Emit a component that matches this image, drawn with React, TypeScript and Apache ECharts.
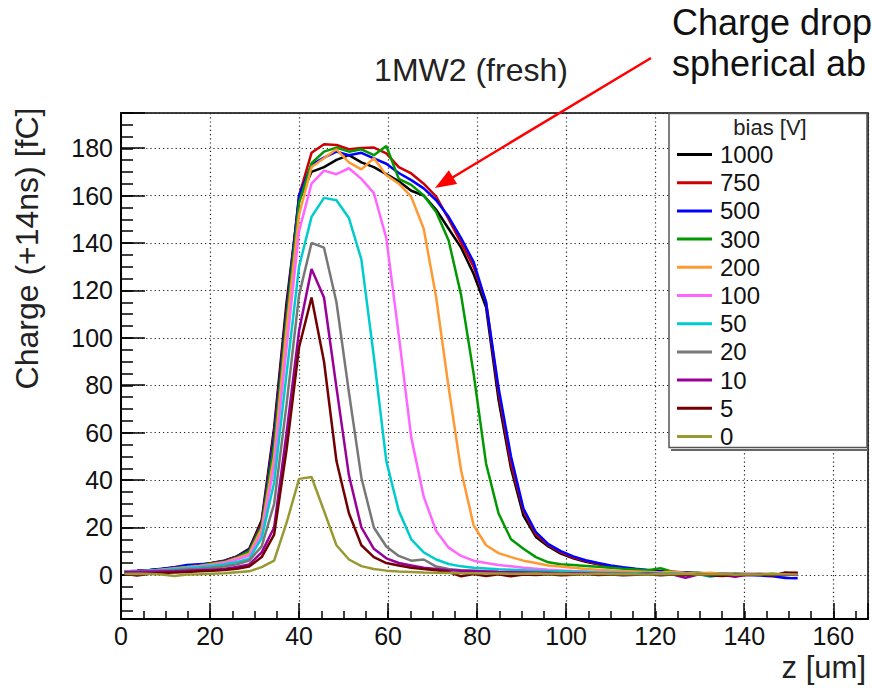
import React, { useEffect, useRef } from "react";
import * as echarts from "echarts";

// z positions of the scan [um]
const zPositions = [
  0.8, 3.6, 6.4, 9.2, 12.0, 14.8, 17.6, 20.4, 23.2, 26.0, 28.8, 31.6, 34.4, 37.2,
  40.0, 42.8, 45.6, 48.4, 51.2, 54.0, 56.8, 59.6, 62.4, 65.2, 68.0, 70.8, 73.6,
  76.4, 79.2, 82.0, 84.8, 87.6, 90.4, 93.2, 96.0, 98.8, 101.6, 104.4, 107.2, 110.0,
  112.8, 115.6, 118.4, 121.2, 124.0, 126.8, 129.6, 132.4, 135.2, 138.0, 140.8,
  143.6, 146.4, 149.2, 152.0,
];

const biasLabels = ["1000", "750", "500", "300", "200", "100", "50", "20", "10", "5", "0"];
const biasColors = [
  "#000000", "#cc0000", "#0000ff", "#009900", "#ff9933", "#ff66ff",
  "#00cccc", "#777777", "#990099", "#730000", "#999933",
];

const bias1000 = [1.5,1.6,2.0,2.5,3.0,3.5,4.2,5.0,6.0,7.8,11, 23,62,115,158,170,172,175,177,174,172, 169,166,162,160,154,146,138,127,113,74, 45,25,16,12,9,7,5.5,4.5,3.6,2.8, 2.2,1.8,1.4,1.2,0.9,0.6,0.4,0.5,0.2,0.3, 0.1,0.0,-0.2,0.3];
const bias750 = [1.3,1.5,2.0,2.4,3.2,3.6,4.0,5.0,6.0,7.7,10.5, 22,60,112,160,178,181.6,181.3,179.5,180,180.2, 177.8,172,169.3,165,159.5,150,140,130,115,77, 47,27,17,12.5,9.5,7.3,5.8,4.6,3.7,2.9, 2.3,1.8,1.5,1.2,1.0,0.8,0.6,0.3,0.5,0.2, 0.4,0.0,0.6,0.9];
const bias500 = [1.4,1.7,2.1,2.6,3.2,4.2,4.5,4.8,5.8,7.5,10.3, 21,58,110,160,173,176,178.5,177,178,175.7, 173.4,169.5,166.5,163,158,151,142,132,115,79, 50,28,18,13,10,7.8,6.2,5.0,4.0,3.2, 2.6,2.1,1.6,1.3,1.0,0.6,0.3,0.5,0.1,0.0, -0.3,-0.6,-1.3,-1.4];
const bias300 = [1.3,1.5,1.9,2.3,2.9,3.4,4.0,4.8,5.6,7.3,10, 20.5,55,108,157,173.6,178.5,180.2,178.5,179.5,177, 180.9,167,164.5,160,153,141,118,85,47,26, 15,11,7.5,5.3,4.5,4.2,3.8,3.4,3.0,2.6, 2.3,2.0,2.8,1.2,0.8,0.9,0.5,0.6,0.3,0.4, 0.2,0.5,0.1,0.3];
const bias200 = [1.2,1.4,1.8,2.2,2.7,3.2,3.8,4.5,5.3,7.0,9.0, 19.5,50,104,152,172,175.7,179.5,174,171,175.7, 168.6,165,159.5,146,117,79,44,21,12.5,9.2, 7.5,6,5,4,3.5,3,2.5,2.2,1.9,1.6, 1.4,1.2,1.0,1.3,0.8,0.6,0.9,0.4,0.7,0.3, 0.5,0.2,0.4,0.1];
const bias100 = [1.3,1.5,1.8,2.2,2.6,3.0,3.6,4.2,5.0,6.5,8.2, 17.5,46,96,145,165,170.5,169,171.5,167,161, 142,101,58,33,18.5,11.5,8,6,5,4.2, 3.6,3.0,2.6,2.2,1.9,1.6,1.4,1.2,1.0,0.9, 0.8,0.6,0.4,0.3,0.5,0.2,0.2,0.5,0.3,0.6, 0.4,0.2,0.5,0.3];
const bias50 = [1.2,1.4,1.7,2.0,2.4,2.8,3.2,3.8,4.4,5.4,6.8, 15.5,39,85,130,151,159,158,150.5,133,92, 48,27,15,9.5,6.5,4.6,3.6,3.0,2.7,2.4, 2.2,2.0,1.8,1.6,1.5,1.3,1.2,1.0,0.9,0.8, 0.7,0.9,0.5,0.6,0.3,0.4,-0.8,0.2,0.5,0.3, 0.4,0.1,0.3,0.2];
const bias20 = [1.2,1.4,1.6,1.8,2.0,2.3,2.6,3.0,3.5,4.5,6.0, 12,30,72,118,140,138,115,77,41,20, 12,8,6,6.5,3.5,2.5,2.0,1.8,1.5,1.3, 1.2,1.1,1.0,0.9,0.8,0.7,0.7,0.6,0.5,0.5, 0.4,0.6,0.3,0.5,0.2,0.4,0.3,0.1,0.4,0.2, 0.3,0.0,0.2,0.4];
const bias10 = [1.1,1.2,1.3,1.4,1.5,1.8,2.0,2.2,2.5,3.3,4.4, 9.5,20,60,103,129,117,79,42,20,11, 7,5,4,3,2.5,2,1.8,1.6,1.4,1.2, 1.1,1.0,0.9,0.8,0.7,0.6,0.6,0.5,0.4,0.4, 0.3,0.5,0.4,0.2,-1.2,0.1,0.3,0.0,-0.8,0.2, 0.3,0.1,0.2,0.0];
const bias5 = [0.5,-0.3,0.5,0.8,1.0,1.2,1.5,1.8,2.1,2.6,3.5, 7.5,17,53,96,117,90,48,26,12.5,7.5, 5,4,3,2.5,2,1.2,-0.6,0.4,-0.5,0.3, -0.6,0.2,0.0,0.3,-0.2,0.1,0.4,0.0,0.2,-0.1, 0.1,0.3,-0.2,0.2,0.0,0.3,-0.3,-0.5,0.1,0.0, 0.2,-0.4,1.0,0.8];
const bias0 = [0.4,0.5,0.4,0.2,-0.5,0.2,0.3,0.5,0.7,1.1,1.5, 3.3,6,22,40.5,41.3,27,12.5,6.5,3.7,2.5, 1.8,1.4,1.2,1.0,0.9,0.8,0.7,0.7,0.6,0.6, 0.5,0.5,0.6,0.4,0.5,0.3,0.4,0.5,0.3,0.4, 0.3,0.2,0.4,0.3,0.5,0.2,0.3,0.4,0.1,0.3, 0.2,0.4,0.3,0.2];

const seriesValues = [bias1000, bias750, bias500, bias300, bias200, bias100, bias50, bias20, bias10, bias5, bias0];

const FONT = '"Liberation Sans", Arial, Helvetica, sans-serif';

const major20 = (v: number) => (Math.abs(v % 20) < 1e-6 ? String(Math.round(v)) : "");

export default function App() {
  const ref = useRef<HTMLDivElement>(null);

  useEffect(() => {
    if (!ref.current) return;
    const chart = echarts.init(ref.current, null, { renderer: "svg" });

    // arrow geometry
    const ax1 = 651, ay1 = 58, ax2 = 435, ay2 = 188;
    const dx = ax2 - ax1, dy = ay2 - ay1;
    const len = Math.sqrt(dx * dx + dy * dy);
    const ux = dx / len, uy = dy / len;
    const headL = 21, headW = 8;
    const bx = ax2 - ux * headL, by = ay2 - uy * headL;

    const dotted = { color: "#222", width: 1.2, type: [1.2, 3] as any };

    const option: any = {
      animation: false,
      backgroundColor: "#fff",
      textStyle: { fontFamily: FONT },
      grid: [
        { left: 121, top: 113, width: 747, height: 506, show: true, borderColor: "#000", borderWidth: 1.5, backgroundColor: "transparent" },
        { left: 121, top: 113, width: 734.6, height: 506 },
        { left: 121, top: 112.7, width: 747, height: 497.9 },
      ],
      xAxis: [
        {
          type: "value", gridIndex: 0, min: 0, max: 167.8, splitNumber: 8,
          axisLine: { show: true, onZero: false, lineStyle: { color: "#000", width: 2 } },
          axisTick: { show: true, inside: true, length: 16, lineStyle: { color: "#000", width: 1.5 } },
          axisLabel: { formatter: major20, fontSize: 25, color: "#111", margin: 4, fontFamily: FONT },
          splitLine: { show: true, lineStyle: dotted },
        },
        {
          type: "value", gridIndex: 1, min: 0, max: 165, interval: 5,
          axisLine: { show: false, onZero: false },
          axisTick: { show: true, inside: true, length: 8, lineStyle: { color: "#000", width: 1.5 } },
          axisLabel: { show: false }, splitLine: { show: false },
        },
        { type: "value", gridIndex: 2, min: 0, max: 1, show: false },
      ],
      yAxis: [
        {
          type: "value", gridIndex: 0, min: -18.6, max: 194.8, splitNumber: 10,
          axisLine: { show: true, onZero: false, lineStyle: { color: "#000", width: 2 } },
          axisTick: { show: true, inside: true, length: 24, lineStyle: { color: "#000", width: 1.5 } },
          axisLabel: { formatter: major20, fontSize: 25, color: "#111", margin: 8, fontFamily: FONT },
          splitLine: { show: true, lineStyle: dotted },
        },
        { type: "value", gridIndex: 1, min: 0, max: 1, show: false },
        {
          type: "value", gridIndex: 2, min: -15, max: 195, interval: 5,
          axisLine: { show: false, onZero: false },
          axisTick: { show: true, inside: true, length: 12, lineStyle: { color: "#000", width: 1.5 } },
          axisLabel: { show: false }, splitLine: { show: false },
        },
      ],
      legend: {
        show: true, orient: "vertical", left: 677, top: 142.5,
        itemWidth: 35, itemHeight: 3, itemGap: 4.2, icon: "rect", padding: 0,
        selectedMode: false, z: 20,
        textStyle: { fontSize: 24, lineHeight: 24, color: "#111", fontFamily: FONT, padding: [0, 0, 0, 3] },
        data: biasLabels,
      },
      series: seriesValues.map((vals, k) => ({
        type: "line",
        name: biasLabels[k],
        xAxisIndex: 0,
        yAxisIndex: 0,
        data: zPositions.map((z, i) => [z, vals[i]]),
        symbol: "none",
        showSymbol: false,
        lineStyle: { color: biasColors[k], width: 2.5 },
        itemStyle: { color: biasColors[k] },
        emphasis: { disabled: true },
      })),
      graphic: [
        { type: "rect", z: 10, shape: { x: 669, y: 113.5, width: 198, height: 334 }, style: { fill: "#fff", stroke: "#555", lineWidth: 1.5 } },
        { type: "line", z: 10, shape: { x1: 671, y1: 450, x2: 868, y2: 450 }, style: { stroke: "#666", lineWidth: 2 } },
        { type: "text", z: 11, x: 770, y: 127, style: { text: "bias [V]", fontSize: 22, fontFamily: FONT, fill: "#222", textAlign: "center", textVerticalAlign: "middle" } },
        { type: "text", z: 11, x: 471, y: 70, style: { text: "1MW2 (fresh)", fontSize: 32, fontFamily: FONT, fill: "#222", textAlign: "center", textVerticalAlign: "middle" } },
        { type: "text", z: 11, x: 27, y: 248.5, rotation: Math.PI / 2, style: { text: "Charge (+14ns) [fC]", fontSize: 32, fontFamily: FONT, fill: "#222", textAlign: "center", textVerticalAlign: "middle" } },
        { type: "text", z: 11, x: 866, y: 667, style: { text: "z [um]", fontSize: 31, fontFamily: FONT, fill: "#222", textAlign: "right", textVerticalAlign: "middle" } },
        { type: "text", z: 11, x: 672, y: 22, style: { text: "Charge drop", fontSize: 36, fontFamily: FONT, fill: "#111", textAlign: "left", textVerticalAlign: "middle" } },
        { type: "text", z: 11, x: 672, y: 63, style: { text: "spherical ab", fontSize: 36, fontFamily: FONT, fill: "#111", textAlign: "left", textVerticalAlign: "middle" } },
        { type: "line", z: 12, shape: { x1: ax1, y1: ay1, x2: bx + ux * 2, y2: by + uy * 2 }, style: { stroke: "#f00", lineWidth: 2.5 } },
        {
          type: "polygon", z: 12,
          shape: { points: [[ax2, ay2], [bx - uy * headW, by + ux * headW], [bx + uy * headW, by - ux * headW]] },
          style: { fill: "#f00" },
        },
      ],
    };

    chart.setOption(option);
    return () => chart.dispose();
  }, []);

  return (
    <div
      ref={ref}
      style={{ position: "absolute", left: 0, top: 0, width: 872, height: 690, background: "#fff" }}
    />
  );
}
